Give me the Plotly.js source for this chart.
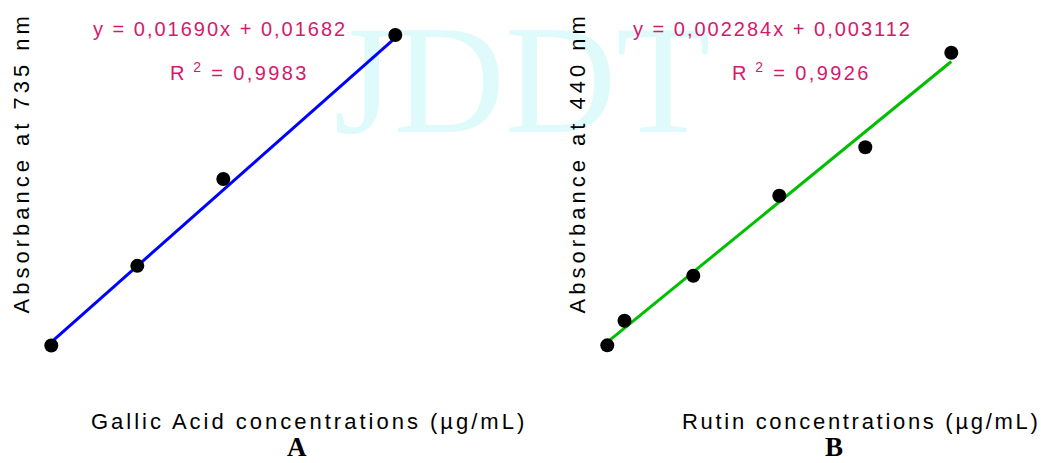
<!DOCTYPE html>
<html>
<head>
<meta charset="utf-8">
<script src="https://cdn.plot.ly/plotly-3.0.1.min.js"></script>
<style>
  html, body { margin: 0; padding: 0; background: #ffffff; }
  #chart { width: 1044px; height: 463px; }
</style>
</head>
<body>
<div id="chart"></div>
<script>
// ---- Data ----
// Panel A: Gallic acid calibration (absorbance at 735 nm)
var gallicConc = [10, 20, 30, 50];
var gallicAbs = [0.178, 0.355, 0.548, 0.868];
var gallicFitX = [10, 50];
var gallicFitY = [0.1858, 0.8618];
var gallicEq = "y = 0,01690x + 0,01682";
var gallicR2 = "0,9983";

// Panel B: Rutin calibration (absorbance at 440 nm)
var rutinConc = [0, 10, 50, 100, 150, 200];
var rutinAbs = [-0.002, 0.0381, 0.1113, 0.2415, 0.3203, 0.4742];
var rutinFitX = [0, 200];
var rutinFitY = [0.003112, 0.459912];
var rutinEq = "y = 0,002284x + 0,003112";
var rutinR2 = "0,9926";

var titleXA = "Gallic Acid concentrations (µg/mL)";
var titleYA = "Absorbance at 735 nm";
var titleXB = "Rutin concentrations (µg/mL)";
var titleYB = "Absorbance at 440 nm";
var panelLabels = ["A", "B"];
var watermark = "JDDT";

// ---- Layout helpers ----
var W = 1044, H = 463;
function px(x) { return x / W; }
function py(y) { return 1 - y / H; }
function spaced(t, s) { return '<span style="letter-spacing:' + s + 'px">' + t + '</span>'; }

var pink = "#d6186c";
var sans = "Liberation Sans, Arial, sans-serif";
var serif = "Liberation Serif, Times New Roman, serif";

var traces = [
  { x: gallicFitX, y: gallicFitY, xaxis: 'x', yaxis: 'y', mode: 'lines',
    line: { color: '#0000ff', width: 3 }, hoverinfo: 'skip' },
  { x: gallicConc, y: gallicAbs, xaxis: 'x', yaxis: 'y', mode: 'markers',
    marker: { color: '#000000', size: 14 } },
  { x: rutinFitX, y: rutinFitY, xaxis: 'x2', yaxis: 'y2', mode: 'lines',
    line: { color: '#00bf00', width: 3 }, hoverinfo: 'skip' },
  { x: rutinConc, y: rutinAbs, xaxis: 'x2', yaxis: 'y2', mode: 'markers',
    marker: { color: '#000000', size: 14 } }
];

var hidden = { visible: false, showgrid: false, zeroline: false, showline: false, showticklabels: false, fixedrange: true };

function ann(text, x, y, size, color, family, extra) {
  var a = { text: text, x: px(x), y: py(y), xref: 'paper', yref: 'paper',
    xanchor: 'center', yanchor: 'middle', showarrow: false,
    font: { size: size, color: color, family: family } };
  for (var k in extra) a[k] = extra[k];
  return a;
}

var layout = {
  width: W, height: H,
  margin: { l: 0, r: 0, t: 0, b: 0 },
  paper_bgcolor: '#ffffff',
  plot_bgcolor: 'rgba(0,0,0,0)',
  showlegend: false,
  xaxis: Object.assign({ domain: [px(40), px(520)], range: [8.686, 64.5] }, hidden),
  yaxis: Object.assign({ domain: [py(370), py(10)], range: [0.1236, 0.9236] }, hidden),
  xaxis2: Object.assign({ domain: [px(580), px(1030)], range: [-15.87, 245.76], anchor: 'y2' }, hidden),
  yaxis2: Object.assign({ domain: [py(370), py(10)], range: [-0.04213, 0.5437], anchor: 'x2' }, hidden),
  shapes: [{
    type: 'rect', xref: 'paper', yref: 'paper', layer: 'below',
    x0: px(320), x1: px(724), y0: py(126), y1: py(0),
    line: { width: 0 }, fillcolor: 'rgba(0,0,0,0)',
    label: { text: watermark, textposition: 'middle center',
      font: { size: 154, color: '#dffafa', family: serif } }
  }],
  annotations: [
    ann(spaced(gallicEq, 2), 219.5, 29, 20, pink, sans),
    ann(spaced('R<sup> 2</sup> = ' + gallicR2, 2.4), 239, 71, 20, pink, sans),
    ann(spaced(rutinEq, 2), 772.5, 29, 20, pink, sans),
    ann(spaced('R<sup> 2</sup> = ' + rutinR2, 2.4), 801.7, 71, 20, pink, sans),
    ann(spaced(titleXA, 3), 309, 421, 22, '#000000', sans),
    ann(spaced(titleXB, 2.7), 861, 421, 22, '#000000', sans),
    ann(spaced(titleYA, 4), 21, 163.5, 22, '#000000', sans, { textangle: -90 }),
    ann(spaced(titleYB, 4), 577, 163.5, 22, '#000000', sans, { textangle: -90 }),
    ann('<b>' + panelLabels[0] + '</b>', 297, 463, 27, '#000000', serif, { yanchor: 'bottom', borderpad: 0 }),
    ann('<b>' + panelLabels[1] + '</b>', 834, 463, 27, '#000000', serif, { yanchor: 'bottom', borderpad: 0 })
  ]
};

Plotly.newPlot('chart', traces, layout, { staticPlot: true, displayModeBar: false });
</script>
</body>
</html>
